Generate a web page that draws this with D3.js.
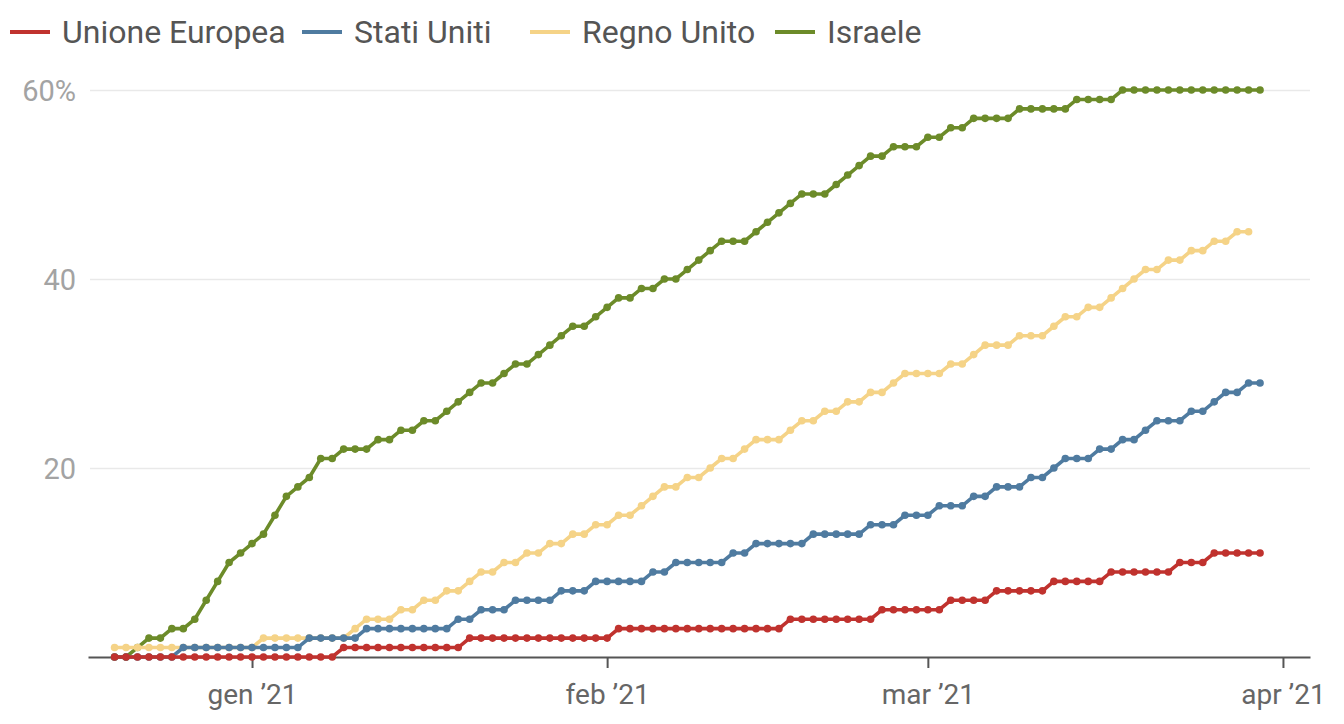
<!DOCTYPE html>
<html>
<head>
<meta charset="utf-8">
<script src="https://cdn.jsdelivr.net/npm/d3@7"></script>
<style>
  body { margin: 0; background: #fff; }
  svg { display: block; }
  text { font-family: Roboto, 'Noto Sans', sans-serif; }
</style>
</head>
<body>
<div class="chart"></div>
<script>
/** daily values, from 20 dec 2020, share of population with at least one dose (%) */
let startDate = new Date(2020, 11, 20);

let euValues = [0,0,0,0,0,0,0,0,0,0,0,0,0,0,0,0,0,0,0,0,
    1,1,1,1,1,1,1,1,1,1,1,
    2,2,2,2,2,2,2,2,2,2,2,2,2,
    3,3,3,3,3,3,3,3,3,3,3,3,3,3,3,
    4,4,4,4,4,4,4,4,
    5,5,5,5,5,5,
    6,6,6,6,
    7,7,7,7,7,
    8,8,8,8,8,
    9,9,9,9,9,9,
    10,10,10,
    11,11,11,11,11];

let usValues = [0,0,0,0,0,0,
    1,1,1,1,1,1,1,1,1,1,1,
    2,2,2,2,2,
    3,3,3,3,3,3,3,3,
    4,4,5,5,5,6,6,6,6,7,7,7,8,8,8,8,8,9,9,
    10,10,10,10,10,11,11,12,12,12,12,12,
    13,13,13,13,13,14,14,14,15,15,15,16,16,16,17,17,18,18,18,19,19,
    20,21,21,21,22,22,23,23,24,25,25,25,26,26,27,28,28,29,29];

let ukValues = [1,1,1,1,1,1,1,1,1,1,1,1,1,
    2,2,2,2,2,2,2,2,
    3,4,4,4,5,5,6,6,7,7,8,9,9,10,10,11,11,12,12,13,13,14,14,15,15,16,17,18,18,19,19,20,21,21,22,
    23,23,23,24,25,25,26,26,27,27,28,28,29,30,30,30,30,31,31,32,33,33,33,34,34,
    34,35,36,36,37,37,38,39,40,41,41,42,42,43,43,44,44,45,45];

let israelValues = [0,0,1,2,2,3,3,4,6,8,10,11,12,13,15,17,18,19,21,21,22,22,22,23,23,24,24,
    25,25,26,27,28,29,29,30,31,31,32,33,34,35,35,36,37,38,38,39,39,40,40,41,42,43,44,44,44,
    45,46,47,48,49,49,49,50,51,52,53,53,54,54,54,55,55,56,56,57,57,57,57,58,58,
    58,58,58,59,59,59,59,60,60,60,60,60,60,60,60,60,60,60,60,60];

let seriesNames = ["Unione Europea", "Stati Uniti", "Regno Unito", "Israele"];
let seriesValues = [euValues, usValues, ukValues, israelValues];
let seriesColors = ["#c0322e", "#4f7ba0", "#f5d387", "#6c8b29"];

let yTicks = [20, 40, 60];
let xTickDates = [new Date(2021, 0, 1), new Date(2021, 1, 1), new Date(2021, 2, 1), new Date(2021, 3, 1)];
let monthNames = ["gen", "feb", "mar", "apr"];

/** canvas */
let width = 1344, height = 724;
let svg = d3.select('.chart').append('svg')
    .attr('width', width)
    .attr('height', height);

/** scales */
let xScale = d3.scaleTime()
    .domain([new Date(2020, 11, 17, 16, 20), new Date(2021, 3, 3, 8, 40)])
    .range([88, 1310]);

let yScale = d3.scaleLinear()
    .domain([0, 60])
    .range([657, 90]);

/** gridlines + y labels */
let yAxis = d3.axisLeft(yScale)
    .tickValues(yTicks)
    .tickSize(-(1310 - 90))
    .tickPadding(14)
    .tickFormat(function (d) { return d === 60 ? d + '%' : d; });

let yG = svg.append('g')
    .attr('transform', 'translate(90,0)')
    .call(yAxis);
yG.select('.domain').remove();
yG.selectAll('.tick line').attr('stroke', '#e9e9e9').attr('stroke-width', 1.6);
yG.selectAll('.tick text')
    .attr('fill', '#a3a3a3')
    .style('font-size', '29px')
    .attr('dy', '0.36em');

/** x axis */
let xAxis = d3.axisBottom(xScale)
    .tickValues(xTickDates)
    .tickSize(11)
    .tickSizeOuter(0)
    .tickPadding(12)
    .tickFormat(function (d, i) { return monthNames[i] + ' \u201921'; });

let xG = svg.append('g')
    .attr('transform', 'translate(0,657)')
    .call(xAxis);
xG.select('.domain').attr('stroke', '#555').attr('stroke-width', 2.2);
xG.selectAll('.tick line').attr('stroke', '#555').attr('stroke-width', 2);
xG.selectAll('.tick text')
    .attr('fill', '#666')
    .style('font-size', '28px')
    .attr('dy', '0.85em');

/** lines with dots, drawn from last to first so EU sits on top */
let line = d3.line()
    .x(function (d) { return xScale(d.date); })
    .y(function (d) { return yScale(d.value); });

d3.range(seriesValues.length).reverse().forEach(function (k) {
    let data = seriesValues[k].map(function (v, i) {
        return { date: d3.timeDay.offset(startDate, i), value: v };
    });
    let g = svg.append('g');
    g.append('path')
        .datum(data)
        .attr('fill', 'none')
        .attr('stroke', seriesColors[k])
        .attr('stroke-width', 3.6)
        .attr('d', line);
    g.selectAll('circle')
        .data(data)
        .enter()
        .append('circle')
        .attr('cx', function (d) { return xScale(d.date); })
        .attr('cy', function (d) { return yScale(d.value); })
        .attr('r', 3.8)
        .attr('fill', seriesColors[k]);
});

/** legend */
let legendX = [10, 302, 530, 775];
let legend = svg.append('g').attr('transform', 'translate(0,32)');
seriesNames.forEach(function (name, k) {
    legend.append('line')
        .attr('x1', legendX[k])
        .attr('x2', legendX[k] + 40)
        .attr('y1', 0)
        .attr('y2', 0)
        .attr('stroke', seriesColors[k])
        .attr('stroke-width', 4);
    legend.append('text')
        .attr('x', legendX[k] + 52)
        .attr('y', 0)
        .attr('dy', '0.35em')
        .attr('fill', '#555')
        .style('font-size', '32px')
        .text(name);
});
</script>
</body>
</html>
